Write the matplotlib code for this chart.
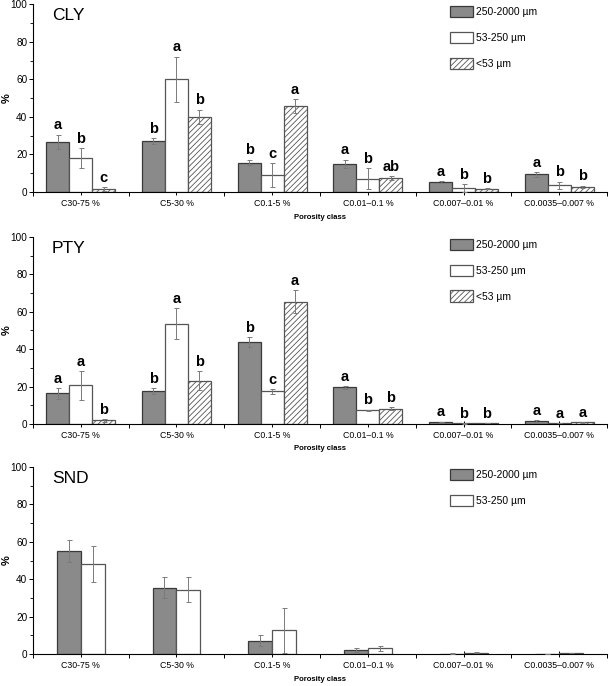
import numpy as np
import matplotlib
matplotlib.use("Agg")
import matplotlib.pyplot as plt
from matplotlib.ticker import MultipleLocator, FixedLocator

plt.rcParams['font.family'] = ['Liberation Sans', 'DejaVu Sans']
plt.rcParams['hatch.color'] = '#555555'
plt.rcParams['hatch.linewidth'] = 0.6

classes = ["C30-75 %", "C5-30 %", "C0.1-5 %", "C0.01\u20130.1 %",
           "C0.007\u20130.01 %", "C0.0035\u20130.007 %"]
fractions = ["250-2000 \u00b5m", "53-250 \u00b5m", "<53 \u00b5m"]

# CLY
cly_mean = [[26.8, 27.3, 15.7, 15.1, 5.5, 9.4],
            [18.2, 60.1, 9.0, 7.2, 2.3, 3.6],
            [1.8, 40.1, 45.8, 7.5, 1.8, 2.8]]
cly_err = [[3.7, 1.5, 1.5, 2.2, 0.5, 1.3],
           [5.2, 12.0, 6.4, 5.5, 2.1, 2.0],
           [1.0, 3.8, 3.5, 1.1, 0.4, 0.6]]
cly_letters = [["a", "b", "b", "a", "a", "a"],
               ["b", "a", "c", "b", "b", "b"],
               ["c", "b", "a", "ab", "b", "b"]]

# PTY
pty_mean = [[16.4, 17.6, 43.7, 19.5, 1.1, 1.5],
            [20.6, 53.5, 17.4, 7.3, 0.3, 0.4],
            [2.0, 23.1, 65.5, 8.2, 0.5, 0.8]]
pty_err = [[2.9, 1.5, 2.7, 0.8, 0.2, 0.4],
           [7.8, 8.3, 1.3, 0.4, 0.1, 0.1],
           [0.7, 5.0, 6.0, 1.0, 0.1, 0.2]]
pty_letters = [["a", "b", "b", "a", "a", "a"],
               ["a", "a", "c", "b", "b", "a"],
               ["b", "b", "a", "b", "b", "a"]]

# SND
snd_mean = [[55.1, 35.5, 7.1, 2.0, 0.2, 0.0],
            [48.1, 34.5, 12.8, 3.0, 0.8, 0.5]]
snd_err = [[6.1, 5.7, 3.0, 1.0, 0.2, 0.0],
           [9.8, 6.9, 12.0, 1.2, 0.5, 0.2]]

styles = [dict(facecolor='#8a8a8a', edgecolor='#3a3a3a', hatch=None),
          dict(facecolor='white', edgecolor='#555555', hatch=None),
          dict(facecolor='white', edgecolor='#555555', hatch='//////')]

fig = plt.figure(figsize=(6.09, 6.86), dpi=100)
panels = [("CLY", cly_mean, cly_err, cly_letters, [0.720, 0.274]),
          ("PTY", pty_mean, pty_err, pty_letters, [0.382, 0.2725]),
          ("SND", snd_mean, snd_err, None, [0.0466, 0.2725])]

x = np.arange(len(classes))
for name, means, errs, letters, (bottom, height) in panels:
    ax = fig.add_axes([0.054, bottom, 0.943, height])
    n = len(means)
    width = 0.24 if n == 3 else 0.25
    for i in range(n):
        pos = x + (i - (n - 1) / 2) * width
        st = styles[i]
        ax.bar(pos, means[i], width, color=st['facecolor'], edgecolor=st['edgecolor'],
               hatch=st['hatch'], linewidth=0.9, label=fractions[i], zorder=2)
        ax.errorbar(pos, means[i], yerr=errs[i], fmt='none', ecolor='#7a7a7a',
                    elinewidth=0.7, capsize=1.8, capthick=0.7, zorder=3)
        if letters is not None:
            for p, m, e, lab in zip(pos, means[i], errs[i], letters[i]):
                ax.text(p, m + e + 1.2, lab, ha='center', va='bottom',
                        fontsize=10.5, fontweight='bold')

    ax.set_xlim(-0.5, 5.5)
    ax.set_ylim(0, 100)
    ax.spines['top'].set_visible(False)
    ax.spines['right'].set_visible(False)
    ax.yaxis.set_major_locator(MultipleLocator(20))
    ax.yaxis.set_minor_locator(MultipleLocator(10))
    ax.tick_params(axis='y', labelsize=7.2, length=3, width=0.7, pad=1)
    ax.tick_params(axis='y', which='minor', length=2, width=0.6)
    ax.set_xticks(x)
    ax.set_xticklabels(classes, fontsize=6.3)
    ax.tick_params(axis='x', which='major', direction='inout', length=4, width=0.7, pad=3)
    ax.xaxis.set_minor_locator(FixedLocator(np.arange(-0.5, 6, 1)))
    ax.tick_params(axis='x', which='minor', direction='out', length=3, width=0.7)
    ax.set_ylabel('%', fontsize=8, fontweight='bold')
    ax.yaxis.set_label_coords(-0.036, 0.5)
    ax.set_xlabel('Porosity class', fontsize=5.6, fontweight='bold', labelpad=4)
    ax.text(0.033, 0.94, name, transform=ax.transAxes, fontsize=12.5, va='center')
    ax.legend(loc='upper left', bbox_to_anchor=(0.7265, 0.99), frameon=False,
              fontsize=7.4, handlelength=2.25, handleheight=1.3, labelspacing=1.42,
              handletextpad=0.3, borderpad=0, borderaxespad=0)

fig.savefig("out.png", dpi=100)
